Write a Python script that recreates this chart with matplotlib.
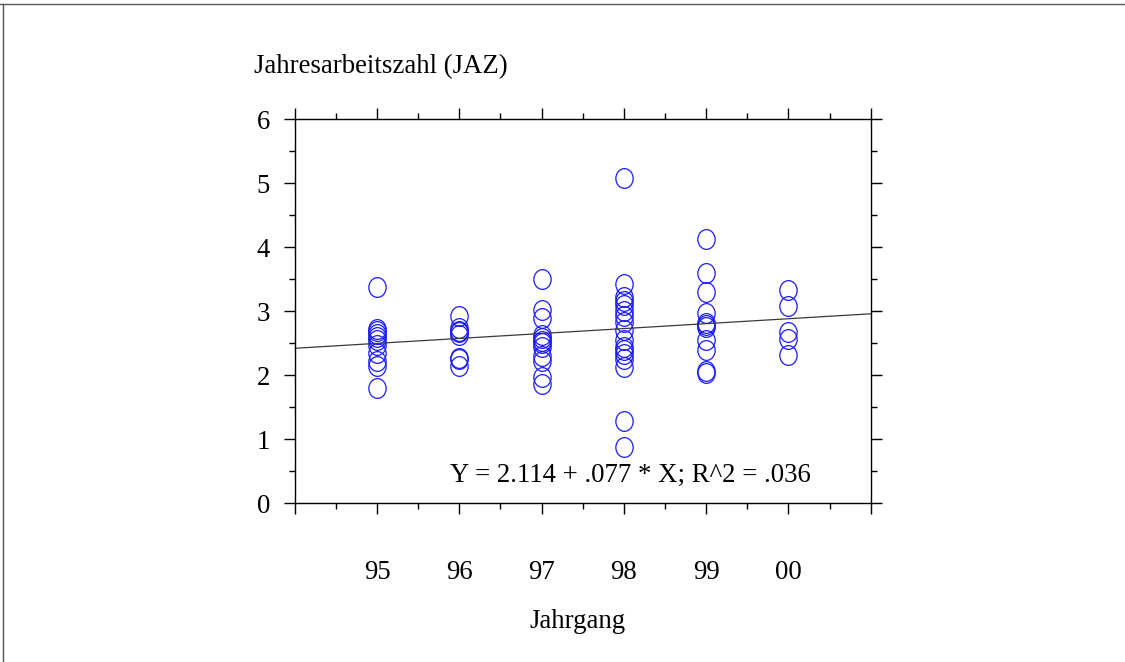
#!/usr/bin/python3
# Scatter of annual performance factor (JAZ) per model year, with linear fit.
import numpy as np
import matplotlib
matplotlib.use('Agg')
import matplotlib.pyplot as plt
import matplotlib.path as mpath
from matplotlib.transforms import Affine2D
from matplotlib.lines import Line2D
from matplotlib.ticker import MultipleLocator

# Model years, coded as year - 90 (00 -> 10).
years       = [5, 6, 7, 8, 9, 10]
year_labels = ['95', '96', '97', '98', '99', '00']

jaz_95 = [3.38, 2.73, 2.69, 2.65, 2.60, 2.55, 2.47, 2.35, 2.22, 2.15, 1.80]
jaz_96 = [2.93, 2.74, 2.70, 2.67, 2.63, 2.27, 2.25, 2.14]
jaz_97 = [3.50, 3.02, 2.90, 2.63, 2.58, 2.54, 2.50, 2.45, 2.30, 2.22, 1.98, 1.87]
jaz_98 = [5.09, 3.43, 3.22, 3.16, 3.10, 3.00, 2.92, 2.84, 2.71, 2.55, 2.45,
          2.40, 2.33, 2.26, 2.13, 1.29, 0.88]
jaz_99 = [4.13, 3.60, 3.30, 2.98, 2.82, 2.79, 2.76, 2.55, 2.40, 2.06, 2.04]
jaz_00 = [3.34, 3.09, 2.68, 2.57, 2.31]
columns = [jaz_95, jaz_96, jaz_97, jaz_98, jaz_99, jaz_00]

# Regression result as reported.
fit_intercept = 2.114
fit_slope     = 0.077
fit_r2        = 0.036

plt.rcParams['font.family'] = ['Liberation Serif', 'DejaVu Serif']
plt.rcParams['font.size']   = 19.3

W, H = 1125, 662
fig = plt.figure(figsize=(W / 100., H / 100.), dpi=100)
ax  = fig.add_axes([294.7 / W, 1 - 503.3 / H, 576.0 / W, 384.0 / H])

# Slightly tall open ellipse marker.
ellipse = mpath.Path.unit_circle().transformed(Affine2D().scale(1.0, 1.14))

xs = np.concatenate([[yr] * len(col) for yr, col in zip(years, columns)])
ys = np.concatenate(columns)
ax.plot(xs, ys, linestyle='none', marker=ellipse, markersize=14.2,
        markerfacecolor='none', markeredgecolor='#1a1aff', markeredgewidth=0.9)

xlim = (4, 11)
line_x = np.array(xlim)
ax.plot(line_x, fit_intercept + fit_slope * line_x, color='#3a3a3a', lw=0.9)

ax.set_xlim(*xlim)
ax.set_ylim(0, 6)
ax.set_xticks(range(4, 12))
ax.set_xticklabels([''] + year_labels + [''])
ax.xaxis.set_minor_locator(MultipleLocator(0.5))
ax.set_yticks(range(0, 7))
ax.yaxis.set_minor_locator(MultipleLocator(0.5))

ax.tick_params(which='both', direction='out', top=True, right=True,
               labelright=False, labeltop=False, width=1.0, color='black')
ax.tick_params(which='major', length=7.7)
ax.tick_params(which='minor', length=4.0)
ax.tick_params(axis='x', which='major', pad=33)
ax.tick_params(axis='y', which='major', pad=10)
for spine in ax.spines.values():
  spine.set_linewidth(1.0)

ax.text(8.08, 0.34, 'Y = %.3f + %s * X; R^2 = %s' % (
          fit_intercept, ('%.3f' % fit_slope)[1:], ('%.3f' % fit_r2)[1:]),
        ha='center', va='baseline')

fig.text(254 / W, 1 - 73 / H, 'Jahresarbeitszahl (JAZ)', ha='left', va='baseline')
fig.text(578 / W, 1 - 628 / H, 'Jahrgang', ha='center', va='baseline')

# Frame lines along top and left of the page.
fig.add_artist(Line2D([0, 1], [1 - 4. / H, 1 - 4. / H], transform=fig.transFigure,
                      color='#555555', lw=1.0))
fig.add_artist(Line2D([3. / W, 3. / W], [0, 1 - 4. / H], transform=fig.transFigure,
                      color='#555555', lw=1.0))

fig.savefig('out.png', dpi=100)
